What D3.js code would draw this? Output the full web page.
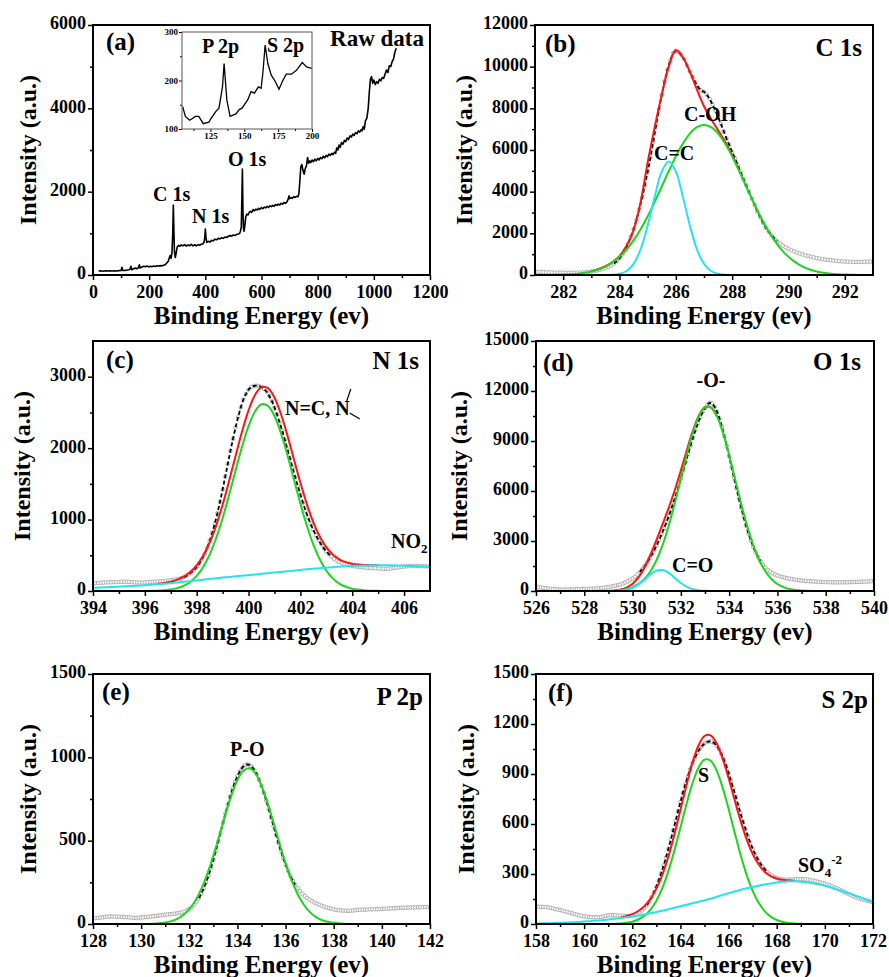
<!DOCTYPE html>
<html><head><meta charset="utf-8">
<script src="https://cdn.jsdelivr.net/npm/d3@7"></script>
<style>
body{margin:0;background:#fff;}
svg text{font-family:"Liberation Serif","Tinos","Times New Roman",Times,"DejaVu Serif","Noto Serif",serif !important;font-weight:bold;fill:#000;}
.axis text{font-size:18px;}
.axis line{stroke-width:1.5px;}
.inset .axis text{font-size:9px;}
.inset .axis line{stroke-width:1px;}
.xt{font-size:25px;}
.yt{font-size:24px;}
.pl{font-size:25px;}
.pk{font-size:20px;}
</style></head><body>
<svg id="chart" width="889" height="977"></svg>
<script>
// ---------------- (a) survey spectrum: [binding energy, intensity] ----------------
const survey = [[20,95],[28,100],[36,92],[44,100],[52,96],[60,102],[68,95],[76,100],[84,97],[92,104],[100,110],[103,185],[106,112],[114,108],[122,120],[128,125],[132,140],[135,210],[138,125],[144,150],[150,165],[156,150],[162,175],[165,245],[168,170],[174,190],[180,210],[186,200],[192,215],[198,195],[204,210],[210,200],[216,215],[222,205],[228,220],[234,215],[240,225],[246,220],[252,235],[258,250],[264,300],[268,330],[272,420],[275,470],[278,400],[281,520],[284,1000],[286,1680],[288,1100],[290,560],[293,420],[296,520],[300,680],[304,710],[308,690],[314,720],[320,700],[326,730],[332,695],[338,720],[344,705],[350,735],[356,700],[362,725],[368,700],[374,730],[380,715],[386,740],[392,750],[396,800],[398,900],[400,1100],[402,920],[405,780],[410,810],[416,790],[422,830],[428,820],[434,860],[440,845],[446,880],[452,865],[458,895],[464,880],[470,910],[476,900],[482,930],[488,945],[494,935],[500,960],[506,950],[512,975],[518,985],[522,1000],[525,1050],[528,1150],[530,1800],[532,2540],[534,1500],[536,1120],[538,1050],[541,1200],[544,1400],[548,1460],[552,1440],[556,1500],[560,1530],[565,1500],[570,1570],[575,1540],[580,1580],[585,1560],[590,1600],[595,1575],[600,1620],[605,1590],[610,1630],[615,1610],[620,1650],[625,1620],[630,1660],[635,1640],[640,1670],[645,1650],[650,1690],[655,1670],[660,1700],[665,1680],[670,1720],[675,1700],[680,1740],[685,1720],[690,1750],[695,1820],[698,1900],[700,1830],[705,1860],[710,1840],[715,1880],[720,1860],[725,1890],[730,1880],[733,1950],[736,2200],[740,2600],[744,2650],[748,2500],[752,2420],[756,2560],[760,2620],[764,2820],[768,2680],[772,2740],[776,2700],[780,2760],[785,2720],[790,2780],[795,2740],[800,2800],[805,2760],[810,2820],[815,2790],[820,2850],[825,2810],[830,2870],[835,2840],[840,2900],[845,2870],[850,2920],[855,2890],[860,2950],[864,2920],[868,3050],[872,3000],[876,3120],[880,3060],[885,3180],[890,3140],[895,3230],[900,3200],[905,3290],[910,3250],[915,3340],[920,3310],[925,3380],[930,3350],[935,3420],[940,3390],[945,3460],[950,3430],[955,3490],[958,3460],[962,3560],[966,3500],[970,3700],[975,3760],[980,4000],[984,4400],[988,4700],[992,4760],[996,4600],[1000,4680],[1005,4570],[1010,4640],[1015,4600],[1020,4700],[1025,4660],[1030,4740],[1035,4720],[1040,4820],[1045,4920],[1050,4860],[1055,5020],[1060,5000],[1065,5120],[1070,5180],[1075,5350],[1080,5440]];
// inset (P 2p / S 2p region): [binding energy, intensity]
const inset = [[104.5,146],[106.5,126],[109.7,118],[113.9,126],[116.4,126],[119.7,111],[123.9,114],[125,120],[128.9,136],[131.3,143],[133.9,187],[135.1,235],[137.1,160],[139.5,126],[143.8,131],[146.3,140],[148.3,143],[152.5,160],[155,177],[157.5,174],[160.4,187],[162.4,184],[163.7,215],[165.4,273],[167.4,235],[169.9,211],[172.9,198],[175.6,182],[178.6,201],[181,213],[184.8,213],[188.5,221],[192.8,237],[196,228],[199.8,225]];

// ---------------- (b) C 1s (data every 0.1 eV from 281; components every 0.25 eV from 281; fit every 0.25 eV from 283) ----------------
const C1s_data = [150,145,150,140,135,130,125,120,115,110,
110,105,105,100,105,110,115,125,135,150,
170,190,215,245,285,330,390,460,550,660,
800,980,1200,1480,1820,2200,2650,3150,3700,4300,
4950,5650,6400,7200,7950,8650,9300,9850,10300,10650,
10750,10700,10550,10350,10050,9750,9480,9230,9000,8850,
8800,8650,8450,8200,7900,7600,7250,6900,6550,6230,
5900,5600,5280,4950,4620,4300,3980,3660,3350,3040,
2760,2500,2270,2070,1900,1750,1620,1510,1410,1330,
1260,1190,1130,1080,1030,990,950,910,875,845,
815,790,765,745,725,710,695,680,668,655,
645,640,635,630,628,626,628,630,635,640,
640];
const C1s_CC = [0,0,0,0,0,0,0,0,0,0,3,14,58,193,535,1233,2364,3760,4966,5450,4966,3760,2364,1233,535,193,58,14,3,0,0,0,0,0,0,0,0,0,0,0,0,0,0,0,0,0,0,0,0];
const C1s_COH = [2,3,6,11,20,36,62,104,169,266,407,604,871,1222,1663,2197,2818,3512,4247,4990,5695,6310,6790,7095,7200,7095,6790,6310,5695,4990,4247,3512,2818,2197,1663,1222,871,604,407,266,169,104,62,36,20,11,6,3,2];
const C1s_fit = [180,280,420,620,900,1400,2150,3500,5400,7100,8650,10000,10800,10450,9750,8900,8100,7500,6950,6400,5750,5020];

// ---------------- (c) N 1s ----------------
const N1s_data = [105,110,112,115,118,120,122,122,125,125,
125,128,130,130,128,125,122,120,118,118,
120,122,125,128,130,132,135,138,142,146,
150,155,162,170,180,195,212,235,262,295,
335,385,445,515,600,700,815,945,1090,1250,
1420,1600,1780,1960,2130,2290,2440,2570,2680,2760,
2820,2855,2870,2875,2870,2855,2830,2790,2730,2660,
2570,2470,2360,2240,2115,1985,1855,1725,1595,1470,
1350,1235,1125,1025,935,855,780,715,655,600,
555,515,480,450,425,405,390,378,368,360,
352,345,340,335,332,328,325,322,320,318,
315,312,310,310,312,318,322,328,332,338,
342,345,348,350,352,352,350,348,346,345,
345];
const N1s_NC = [0,0,0,0,0,0,0,0,1,2,5,10,20,40,72,127,211,337,510,738,1019,1342,1686,2019,2307,2514,2614,2592,2451,2211,1903,1561,1223,913,650,442,286,177,104,59,31,16,8,4,2,0,0,0,0,0,0,0,0];
const N1s_NO2 = [45,48,52,56,60,65,70,75,80,87,95,102,110,119,128,138,148,158,168,178,188,197,205,214,222,231,240,249,258,267,276,285,295,304,312,320,327,334,340,345,350,354,357,359,360,360,360,358,355,351,347,342,337];
const N1s_fit = [100,112,130,159,200,265,359,495,678,916,1207,1539,1891,2233,2529,2745,2854,2841,2709,2478,2179,1846,1518,1217,962,762,613,511,444,404,381,370,365,363,362];

// ---------------- (d) O 1s ----------------
const O1s_data = [240,230,210,190,170,150,135,120,105,95,
90,85,85,90,95,100,105,110,115,118,
120,125,130,135,140,150,160,175,190,210,
235,260,290,320,360,400,450,510,580,660,
750,860,990,1140,1310,1500,1710,1940,2190,2460,
2750,3060,3390,3740,4110,4500,4910,5340,5790,6260,
6740,7230,7730,8230,8720,9190,9630,10040,10400,10720,
10980,11200,11300,11250,11050,10750,10350,9850,9300,8700,
8080,7440,6800,6170,5560,4980,4430,3920,3450,3030,
2650,2320,2030,1780,1570,1400,1260,1150,1060,990,
930,880,840,800,770,740,710,690,670,650,
630,615,600,590,580,570,560,550,545,540,
535,530,525,520,520,520,520,520,525,525,
530,535,540,545,550,555,560,570,580,590,
600];
const O1s_O = [0,0,0,0,0,0,0,0,0,0,2,6,14,30,63,124,236,427,737,1204,1874,2782,3929,5276,6749,8217,9518,10497,11017,11006,10465,9472,8158,6690,5222,3877,2743,1844,1182,720,418,231,121,61,29,13,6,2,0,0,0,0,0,0,0,0,0];
const O1s_CO = [0,0,0,0,0,0,0,0,0,0,0,0,2,8,28,80,196,402,693,1006,1226,1256,1082,783,477,244,105,38,12,3,0,0,0,0,0,0,0,0,0,0,0,0,0,0,0,0,0,0,0,0,0,0,0,0,0,0,0];
const O1s_fit = [38,91,204,432,829,1430,2210,3100,4038,5011,6059,7226,8461,9623,10535,11029,11009,10465];

// ---------------- (e) P 2p ----------------
const P2p_data = [38,36,36,38,40,42,44,45,45,44,
44,43,42,42,41,40,38,37,37,38,
39,40,42,43,45,46,48,50,52,54,
56,58,59,60,62,64,67,70,75,82,
90,100,114,132,155,182,213,250,290,335,
385,438,493,550,607,663,716,766,812,853,
888,916,938,952,958,955,944,925,899,866,
828,785,738,689,638,587,536,487,440,396,
356,320,288,260,236,215,197,182,168,156,
146,137,129,122,115,109,104,99,95,92,
88,85,83,81,80,79,79,80,81,83,
85,86,86,86,87,88,88,89,89,90,
90,91,92,93,94,95,95,96,97,97,
98,98,99,99,100,100,101,101,102,102,
103];
const P2p_PO = [0,0,0,0,0,0,0,0,0,0,2,4,9,17,31,54,89,140,211,301,410,531,656,772,864,920,934,903,830,728,607,482,365,262,180,117,73,43,24,13,7,3,0,0,0,0,0,0,0,0,0,0,0,0,0,0,0];

// ---------------- (f) S 2p ----------------
const S2p_data = [105,104,103,102,101,100,97,94,90,87,
84,80,76,72,68,64,60,56,52,49,
46,44,42,41,40,40,41,43,46,49,
52,53,53,52,51,50,49,48,48,49,
51,55,61,69,80,94,112,134,160,190,
224,262,304,350,399,451,506,562,619,676,
732,786,837,884,927,965,998,1026,1050,1069,
1083,1092,1096,1094,1086,1071,1050,1022,988,950,
907,861,813,763,713,664,616,571,528,489,
453,421,393,368,347,329,314,301,291,283,
277,272,269,267,266,266,267,268,269,270,
270,269,268,266,264,261,258,254,250,246,
242,237,232,226,220,214,207,200,193,186,
179,172,166,160,155,150,146,142,138,134,
130];
const S2p_S = [0,0,0,0,0,0,0,0,0,0,0,0,0,0,3,7,14,27,49,85,140,216,317,441,578,718,844,938,986,980,922,820,691,550,414,295,199,127,77,44,24,12,6,3,1,0,0,0,0,0,0,0,0,0,0,0,0];
const S2p_SO4 = [3,4,5,6,7,9,10,12,15,17,20,23,27,31,35,40,45,51,57,64,72,80,88,97,106,115,124,133,142,152,163,174,185,195,205,214,222,230,237,243,249,253,256,256,254,250,245,238,229,219,208,196,184,171,158,144,131];
const S2p_fit = [38,47,59,78,106,149,212,296,405,538,684,833,968,1071,1128,1132,1085,994,876,745,619,509,421,357,314,287,273,265,262,259];

// tick values
const aXMajor=[0,200,400,600,800,1000,1200], aXMinor=[100,300,500,700,900,1100], aYMajor=[0,2000,4000,6000], aYMinor=[1000,3000,5000];
const bXMajor=[282,284,286,288,290,292], bXMinor=[283,285,287,289,291], bYMajor=[0,2000,4000,6000,8000,10000,12000], bYMinor=[1000,3000,5000,7000,9000,11000];
const cXMajor=[394,396,398,400,402,404,406], cXMinor=[395,397,399,401,403,405], cYMajor=[0,1000,2000,3000], cYMinor=[500,1500,2500];
const dXMajor=[526,528,530,532,534,536,538,540], dXMinor=[527,529,531,533,535,537,539], dYMajor=[0,3000,6000,9000,12000,15000], dYMinor=[1500,4500,7500,10500,13500];
const eXMajor=[128,130,132,134,136,138,140,142], eXMinor=[129,131,133,135,137,139,141], eYMajor=[0,500,1000,1500], eYMinor=[250,750,1250];
const fXMajor=[158,160,162,164,166,168,170,172], fXMinor=[159,161,163,165,167,169,171], fYMajor=[0,300,600,900,1200,1500], fYMinor=[150,450,750,1050,1350];
const insXMajor=[125,150,175,200], insXMinor=[112.5,137.5,162.5,187.5], insYMajor=[100,200,300], insYMinor=[150,250];

const RED="#ff1414", GREEN="#1ed41e", CYAN="#22e3f3";
const FONT = "'Liberation Serif','Tinos','Times New Roman',Times,'DejaVu Serif',serif";
const svg = d3.select("#chart");
const defs = svg.append("defs");
function series(start, step, vals){ return vals.map((v,i)=>[+(start+i*step).toFixed(3), v]); }

function frame(p, cls){
  const x = d3.scaleLinear().domain(p.xd).range([p.L, p.R]);
  const y = d3.scaleLinear().domain(p.yd).range([p.B, p.T]);
  const g = svg.append("g").attr("class", cls||"");
  defs.append("clipPath").attr("id","clip"+p.id).append("rect")
    .attr("x",p.L).attr("y",p.T).attr("width",p.R-p.L).attr("height",p.B-p.T);
  const plot = g.append("g").attr("clip-path",`url(#clip${p.id})`);
  const ax = (axis, tr) => g.append("g").attr("class","axis").attr("transform",tr).call(axis)
      .attr("font-family",FONT).attr("font-size",null)
      .call(s=>s.select(".domain").remove());
  const big = p.small ? 3 : 5, sm = p.small ? 2 : 3;
  ax(d3.axisBottom(x).tickValues(p.xMinor).tickSize(sm).tickFormat(""), `translate(0,${p.B})`);
  ax(d3.axisBottom(x).tickValues(p.xMajor).tickSize(big).tickPadding(p.small?1:5).tickFormat(d3.format("d")), `translate(0,${p.B})`);
  ax(d3.axisLeft(y).tickValues(p.yMinor).tickSize(sm).tickFormat(""), `translate(${p.L},0)`);
  const yl = ax(d3.axisLeft(y).tickValues(p.yMajor).tickSize(big).tickPadding(p.small?1:2).tickFormat(d3.format("d")), `translate(${p.L},0)`);
  if(!p.small) yl.selectAll("text").attr("dy","0.22em");
  g.append("rect").attr("x",p.L).attr("y",p.T).attr("width",p.R-p.L).attr("height",p.B-p.T)
    .attr("fill","none").attr("stroke",p.small?"#555":"#000").attr("stroke-width",p.small?1:2);
  if(!p.small){
    g.append("text").attr("class","xt").attr("x",(p.L+p.R)/2).attr("y",p.B+49).attr("text-anchor","middle").text("Binding Energy (ev)");
    g.append("text").attr("class","yt").attr("text-anchor","middle")
      .attr("transform",`translate(${p.ytx},${(p.T+p.B)/2}) rotate(-90)`).text("Intensity (a.u.)");
  }
  return {x,y,g,plot};
}

function xps(P, d){
  const {x,y,plot} = P;
  const lin = d3.line().x(v=>x(v[0])).y(v=>y(v[1]));
  const smooth = d3.line().x(v=>x(v[0])).y(v=>y(v[1])).curve(d3.curveCatmullRom);
  plot.append("g").selectAll("circle").data(d.data).join("circle")
    .attr("cx",v=>x(v[0])).attr("cy",v=>y(v[1])).attr("r",1.8)
    .attr("fill","#fff").attr("stroke","#a6a6a6").attr("stroke-width",0.9);
  plot.append("path").datum(d.data.filter(v=>v[0]>=d.dash[0]-1e-6 && v[0]<=d.dash[1]+1e-6))
    .attr("d",lin).attr("fill","none").attr("stroke","#000").attr("stroke-width",1.8).attr("stroke-dasharray","4,2.5");
  if(d.fit) plot.append("path").datum(d.fit).attr("d",smooth).attr("fill","none").attr("stroke",RED).attr("stroke-width",2);
  (d.comps||[]).forEach(c=>{
    plot.append("path").datum(c.pts).attr("d",smooth).attr("fill","none").attr("stroke",c.color).attr("stroke-width",2);
  });
}

function label(g, txt, x, y, cls, anchor){
  return g.append("text").attr("class",cls).attr("x",x).attr("y",y).attr("text-anchor",anchor||"start").text(txt);
}

// ----- panel a -----
const A = frame({id:"a",L:93,R:430,T:25,B:275,xd:[0,1200],yd:[0,6000],xMajor:aXMajor,xMinor:aXMinor,yMajor:aYMajor,yMinor:aYMinor,ytx:36});
A.plot.append("path").datum(survey)
  .attr("d",d3.line().x(v=>A.x(v[0])).y(v=>A.y(v[1])))
  .attr("fill","none").attr("stroke","#000").attr("stroke-width",1.6).attr("stroke-linejoin","round");
label(A.g,"(a)",106,50,"pl");
label(A.g,"Raw data",424,46,"pl","end").style("font-size","23px");
label(A.g,"C 1s",153,201,"pk");
label(A.g,"N 1s",192,223,"pk");
label(A.g,"O 1s",228,166,"pk");
const I = frame({id:"ins",L:182,R:312,T:32,B:129,xd:[104,200],yd:[100,300],xMajor:insXMajor,xMinor:insXMinor,yMajor:insYMajor,yMinor:insYMinor,small:true},"inset");
I.plot.append("path").datum(inset)
  .attr("d",d3.line().x(v=>I.x(v[0])).y(v=>I.y(v[1])))
  .attr("fill","none").attr("stroke","#000").attr("stroke-width",1.3);
label(I.g,"P 2p",202,53,"pk");
label(I.g,"S 2p",267,52,"pk");

// ----- panel b -----
const B = frame({id:"b",L:535,R:873,T:25,B:275,xd:[281,293],yd:[0,12000],xMajor:bXMajor,xMinor:bXMinor,yMajor:bYMajor,yMinor:bYMinor,ytx:472});
xps(B,{data:series(281,0.1,C1s_data),dash:[283.8,289.6],fit:series(283,0.25,C1s_fit),
  comps:[{pts:series(281,0.25,C1s_COH),color:GREEN},{pts:series(281,0.25,C1s_CC),color:CYAN}]});
label(B.g,"(b)",545,52,"pl");
label(B.g,"C 1s",862,56,"pl","end");
label(B.g,"C-OH",684,121,"pk");
label(B.g,"C=C",654,160,"pk");

// ----- panel c -----
const C = frame({id:"c",L:93,R:430,T:341,B:591,xd:[394,407],yd:[0,3500],xMajor:cXMajor,xMinor:cXMinor,yMajor:cYMajor,yMinor:cYMinor,ytx:30});
xps(C,{data:series(394,0.1,N1s_data),dash:[397.5,403.2],fit:series(396.5,0.25,N1s_fit),
  comps:[{pts:series(394,0.25,N1s_NC),color:GREEN},{pts:series(394,0.25,N1s_NO2),color:CYAN}]});
label(C.g,"(c)",106,368,"pl");
label(C.g,"N 1s",419,369,"pl","end");
const nc = label(C.g,"N=C, N",285,415,"pk");
const ncR = 285 + nc.node().getComputedTextLength();
C.g.append("line").attr("x1",ncR-3).attr("y1",401).attr("x2",ncR+1).attr("y2",389).attr("stroke","#000").attr("stroke-width",1.2);
C.g.append("line").attr("x1",ncR).attr("y1",413).attr("x2",ncR+10).attr("y2",419).attr("stroke","#000").attr("stroke-width",1.2);
const no2 = label(C.g,"NO",391,548,"pk");
no2.append("tspan").attr("dy",5).style("font-size","13px").text("2");

// ----- panel d -----
const D = frame({id:"d",L:536,R:874,T:341,B:591,xd:[526,540],yd:[0,15000],xMajor:dXMajor,xMinor:dXMinor,yMajor:dYMajor,yMinor:dYMinor,ytx:467});
xps(D,{data:series(526,0.1,O1s_data),dash:[530.3,535.3],fit:series(529.25,0.25,O1s_fit),
  comps:[{pts:series(526,0.25,O1s_O),color:GREEN},{pts:series(526,0.25,O1s_CO),color:CYAN}]});
label(D.g,"(d)",543,371,"pl");
label(D.g,"O 1s",861,370,"pl","end");
label(D.g,"-O-",711,387,"pk","middle");
label(D.g,"C=O",672,572,"pk");

// ----- panel e -----
const E = frame({id:"e",L:93,R:430,T:674,B:924,xd:[128,142],yd:[0,1500],xMajor:eXMajor,xMinor:eXMinor,yMajor:eYMajor,yMinor:eYMinor,ytx:36});
xps(E,{data:series(128,0.1,P2p_data),dash:[132.4,136.4],
  comps:[{pts:series(128,0.25,P2p_PO),color:GREEN}]});
label(E.g,"(e)",102,700,"pl");
label(E.g,"P 2p",423,705,"pl","end");
label(E.g,"P-O",230,756,"pk");

// ----- panel f -----
const F = frame({id:"f",L:536,R:873,T:674,B:924,xd:[158,172],yd:[0,1500],xMajor:fXMajor,xMinor:fXMinor,yMajor:fYMajor,yMinor:fYMinor,ytx:474});
xps(F,{data:series(158,0.1,S2p_data),dash:[162.6,167.6],fit:series(161.5,0.25,S2p_fit),
  comps:[{pts:series(158,0.25,S2p_S),color:GREEN},{pts:series(158,0.25,S2p_SO4),color:CYAN}]});
label(F.g,"(f)",548,701,"pl");
label(F.g,"S 2p",868,708,"pl","end");
label(F.g,"S",698,782,"pk");
const so4 = label(F.g,"SO",798,872,"pk");
so4.append("tspan").attr("dy",5).style("font-size","13px").text("4");
so4.append("tspan").attr("dy",-13).style("font-size","13px").text("-2");
</script>
</body></html>
